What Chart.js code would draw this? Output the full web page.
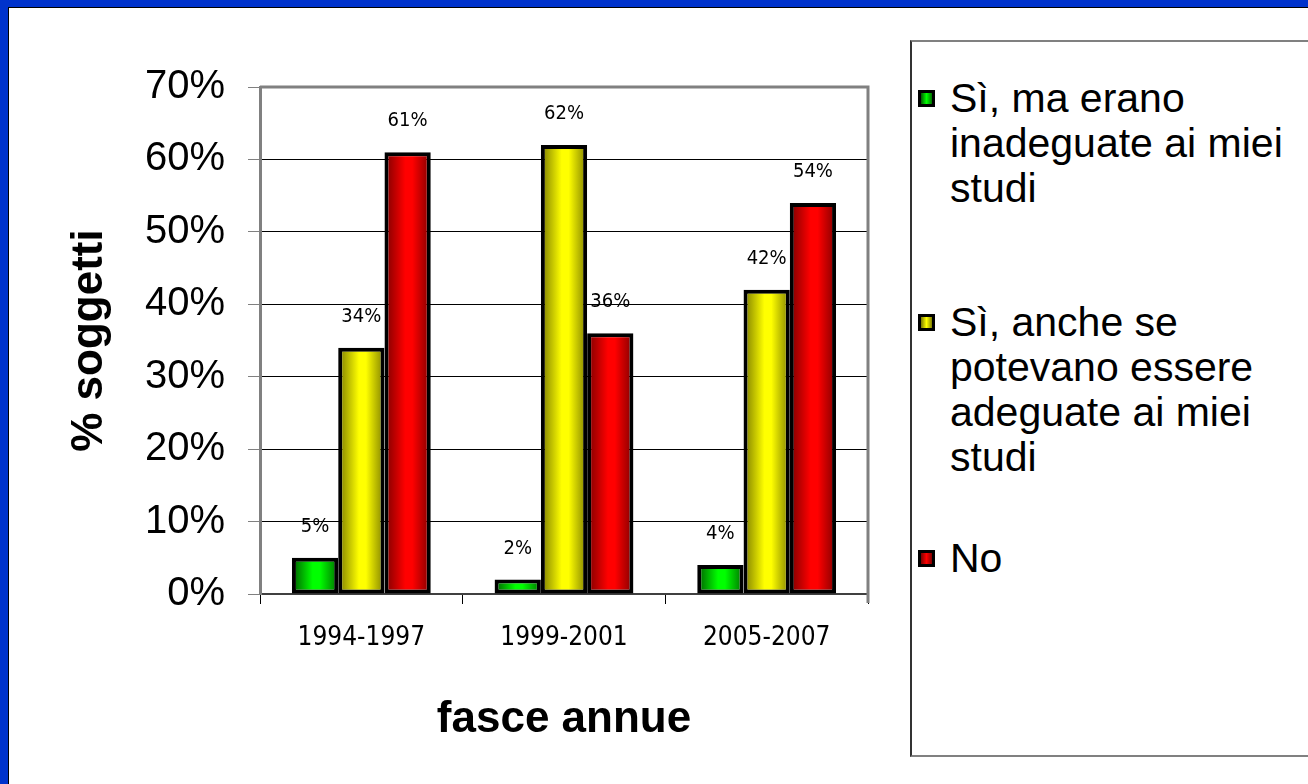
<!DOCTYPE html>
<html>
<head>
<meta charset="utf-8">
<script src="https://cdn.jsdelivr.net/npm/chart.js@4.4.1/dist/chart.umd.min.js"></script>
<style>
  html, body { margin: 0; padding: 0; background: #fff; }
  body { width: 1308px; height: 784px; position: relative; overflow: hidden; }
  .frame { position: absolute; left: 0; top: 0; width: 1308px; height: 784px; box-sizing: border-box;
           border-left: 8px solid #0033cc; border-top: 7px solid #0033cc; }
  .frame-inner { position: absolute; left: 0; top: 0; right: 0; bottom: 0;
                 border-left: 1px solid #000; border-top: 1px solid #000; }
  #wrap { position: absolute; left: 0; top: 0; width: 900px; height: 784px; }
  #legend { position: absolute; left: 910px; top: 40px; width: 430px; height: 717px; box-sizing: border-box;
            border: 2px solid #808080; border-left-color: #333;
            font-family: "Liberation Sans", Arial, sans-serif; font-size: 41px; color: #000; }
  .item { position: absolute; left: 6px; }
  .swatch { position: absolute; left: 0; top: 14px; width: 17px; height: 17px; box-sizing: border-box; border: 3px solid #000; }
  .text { position: absolute; left: 32px; line-height: 45px; white-space: pre; }
</style>
</head>
<body>
<div class="frame"><div class="frame-inner"></div></div>
<div id="wrap"><canvas id="chart"></canvas></div>
<div id="legend"></div>
<script>
const categories = ['1994-1997', '1999-2001', '2005-2007'];
const yTickLabels = ['0%', '10%', '20%', '30%', '40%', '50%', '60%', '70%'];
const seriesLines = [
  ['Sì, ma erano', 'inadeguate ai miei', 'studi'],
  ['Sì, anche se', 'potevano essere', 'adeguate ai miei', 'studi'],
  ['No']
];
const inadeguate = [5, 2, 4];
const adeguabili = [34, 62, 42];
const no = [61, 36, 54];

// dark edge / bright centre, like the office cylinder-ish fill
const shades = [
  ['#005a00', '#00ff00', '#007000'],
  ['#7a7a00', '#ffff00', '#808000'],
  ['#7a0000', '#ff0000', '#800000']
];
const CAT_PCT = 0.685;
const FONT = '"Liberation Sans", Arial, sans-serif';
const SMALL = '"DejaVu Sans Condensed", "DejaVu Sans", sans-serif';

function barFill(c) {
  const s = shades[c.datasetIndex];
  const xs = c.chart.scales.x;
  if (!xs || c.dataIndex === undefined) return s[1];
  const catW = (xs.right - xs.left) / categories.length;
  const w = catW * CAT_PCT / 3;
  const cx = xs.getPixelForValue(c.dataIndex) + (c.datasetIndex - 1) * w;
  if (!isFinite(cx) || !isFinite(w) || w <= 0) return s[1];
  const g = c.chart.ctx.createLinearGradient(cx - w / 2, 0, cx + w / 2, 0);
  g.addColorStop(0, s[0]);
  g.addColorStop(0.45, s[1]);
  g.addColorStop(0.6, s[1]);
  g.addColorStop(1, s[2]);
  return g;
}

const valueLabels = {
  id: 'valueLabels',
  afterDatasetsDraw(chart) {
    const ctx = chart.ctx;
    ctx.save();
    ctx.font = '20px ' + SMALL;
    ctx.fillStyle = '#000';
    ctx.textAlign = 'center';
    ctx.textBaseline = 'middle';
    chart.data.datasets.forEach((ds, i) => {
      chart.getDatasetMeta(i).data.forEach((bar, j) => {
        ctx.fillText(ds.data[j] + '%', bar.x, bar.y - 31);
      });
    });
    ctx.restore();
  }
};

const plotWall = {
  id: 'plotWall',
  afterDraw(chart) {
    const { left, top, right, bottom } = chart.chartArea;
    const ctx = chart.ctx;
    ctx.save();
    ctx.strokeStyle = '#808080';
    ctx.lineWidth = 3;
    ctx.beginPath();
    ctx.moveTo(left, top);
    ctx.lineTo(right, top);
    ctx.lineTo(right, bottom + 9);
    ctx.stroke();
    ctx.restore();
  }
};

const datasets = [inadeguate, adeguabili, no].map((d, i) => ({
  label: seriesLines[i].join(' '),
  data: d,
  backgroundColor: barFill,
  borderColor: '#000',
  borderWidth: 4,
  borderSkipped: false,
  categoryPercentage: CAT_PCT,
  barPercentage: 1
}));

const chart = new Chart(document.getElementById('chart'), {
  type: 'bar',
  data: { labels: categories, datasets: datasets },
  options: {
    responsive: true,
    maintainAspectRatio: false,
    animation: false,
    layout: { padding: { top: 87, right: 32, left: 0, bottom: 0 } },
    plugins: { legend: { display: false }, tooltip: { enabled: false } },
    scales: {
      x: {
        grid: { drawOnChartArea: false, tickLength: 10, color: '#000', offset: true },
        border: { color: '#404040', width: 2 },
        ticks: { color: '#000', font: { family: SMALL, size: 26 }, padding: 19 },
        title: { display: true, text: 'fasce annue', color: '#000',
                 font: { family: FONT, size: 44, weight: 'bold' }, padding: { top: 0, bottom: 38 } },
        afterFit(s) { s.height = 190; }
      },
      y: {
        min: 0,
        max: 70,
        ticks: { stepSize: 10, color: '#000', padding: 23,
                 font: { family: FONT, size: 40 },
                 callback: (v, i) => yTickLabels[i] },
        grid: { color: '#000', tickColor: '#808080', tickLength: 12, lineWidth: 1 },
        border: { color: '#808080', width: 3 },
        title: { display: true, text: '% soggetti', color: '#000',
                 font: { family: FONT, size: 44, weight: 'bold' }, padding: { top: 63, bottom: 0 } },
        afterFit(s) { s.width = 260; }
      }
    }
  },
  plugins: [valueLabels, plotWall]
});
// second pass so the gradients see the laid-out x scale
chart.update();

// html legend, multi-line like the original
const legend = document.getElementById('legend');
const itemTops = [34, 258, 494];
seriesLines.forEach((lines, i) => {
  const item = document.createElement('div');
  item.className = 'item';
  item.style.top = itemTops[i] + 'px';
  const sw = document.createElement('div');
  sw.className = 'swatch';
  sw.style.background = 'linear-gradient(to right, ' + shades[i][0] + ', ' + shades[i][1] + ' 50%, ' + shades[i][2] + ')';
  const tx = document.createElement('div');
  tx.className = 'text';
  tx.textContent = lines.join('\n');
  item.appendChild(sw);
  item.appendChild(tx);
  legend.appendChild(item);
});
</script>
</body>
</html>
